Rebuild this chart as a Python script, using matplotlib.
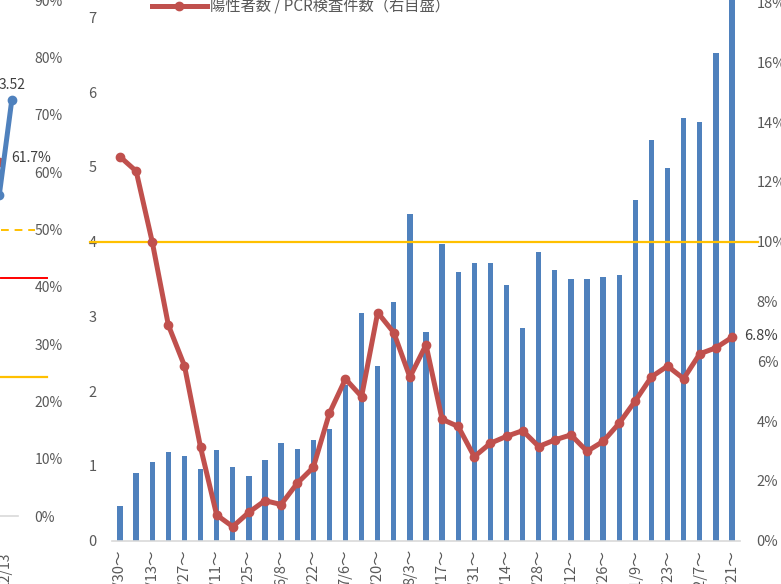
import matplotlib
matplotlib.use("Agg")
import matplotlib.pyplot as plt
from matplotlib.lines import Line2D

plt.rcParams['font.family'] = ['Noto Sans CJK JP', 'DejaVu Sans']

# weekly data, 3/30 ~ 12/21
weeks = ['3/30～', '4/6～', '4/13～', '4/20～', '4/27～', '5/4～', '5/11～', '5/18～', '5/25～',
         '6/1～', '6/8～', '6/15～', '6/22～', '6/29～', '7/6～', '7/13～', '7/20～', '7/27～',
         '8/3～', '8/10～', '8/17～', '8/24～', '8/31～', '9/7～', '9/14～', '9/21～', '9/28～',
         '10/5～', '10/12～', '10/19～', '10/26～', '11/2～', '11/9～', '11/16～', '11/23～',
         '11/30～', '12/7～', '12/14～', '12/21～']
bars = [0.47, 0.90, 1.05, 1.18, 1.13, 0.96, 1.21, 0.98, 0.87, 1.08, 1.31, 1.23, 1.35, 1.49,
        2.08, 3.05, 2.34, 3.19, 4.37, 2.79, 3.97, 3.59, 3.72, 3.72, 3.42, 2.84, 3.86, 3.62,
        3.50, 3.50, 3.53, 3.56, 4.56, 5.36, 4.98, 5.65, 5.60, 6.52, 7.60]
pos_rate = [12.84, 12.36, 9.99, 7.21, 5.85, 3.12, 0.86, 0.47, 0.95, 1.34, 1.21, 1.92, 2.45,
            4.26, 5.41, 4.82, 7.63, 6.96, 5.47, 6.55, 4.06, 3.82, 2.81, 3.26, 3.49, 3.68,
            3.15, 3.37, 3.54, 2.99, 3.32, 3.93, 4.68, 5.48, 5.84, 5.42, 6.25, 6.45, 6.80]
ref_level = 10  # % line on right axis
legend_label = '陽性者数 / PCR検査件数（右目盛）'

# fragment of the neighbouring chart on the left
frag_x = [-1, 0]
frag_blue = [2.72, 3.52]
frag_red_x = [-2, -1]
frag_red = [61.0, 61.7]
frag_hlines = [50, 41.5, 24.3]
frag_ticks = list(range(0, 100, 10))
frag_xlabel = '12/13'

W, H = 781, 584
BLUE = '#4F81BD'
RED = '#C0504D'
ORANGE = '#FFC000'
GRAY = '#595959'


def box(x0, y0, x1, y1):
    # pixel box (top-left origin) -> figure fraction
    return [x0 / W, 1 - y1 / H, (x1 - x0) / W, (y1 - y0) / H]


fig = plt.figure(figsize=(W / 100, H / 100), dpi=100)

# ---- main chart
ax = fig.add_axes(box(112, -57.3, 740, 540.7))
ax.set_facecolor('none')
x = list(range(len(weeks)))
ax.bar(x, bars, width=0.33, color=BLUE, zorder=2)
ax.set_xlim(-0.5, len(weeks) - 0.5)
ax.set_ylim(0, 8)
ax.set_yticks(range(0, 9))
ax.set_xticks(x[::2])
ax.set_xticklabels(weeks[::2], rotation=90)
ax.tick_params(axis='both', length=0, colors=GRAY, labelsize=10.5)
ax.tick_params(axis='y', pad=11)
ax.tick_params(axis='x', pad=6)
for s in ['top', 'left', 'right']:
    ax.spines[s].set_visible(False)
ax.spines['bottom'].set_color('#d9d9d9')
ax.spines['bottom'].set_linewidth(1.2)

ax2 = ax.twinx()
ax2.set_ylim(0, 20)
ax2.set_yticks(range(0, 21, 2))
ax2.set_yticklabels([f'{v}%' for v in range(0, 21, 2)])
ax2.tick_params(axis='y', length=0, colors=GRAY, labelsize=10.5, pad=12)
for s in ax2.spines.values():
    s.set_visible(False)
ax2.axhline(ref_level, xmin=-0.035, xmax=1.029, color=ORANGE, lw=1.6, clip_on=False, zorder=3)
ax2.plot(x, pos_rate, color=RED, lw=3.6, marker='o', ms=6, zorder=4)
ax2.annotate(f'{pos_rate[-1]:.1f}%', (x[-1], pos_rate[-1]), xytext=(9, 1),
             textcoords='offset points', ha='left', va='center', color='#404040', fontsize=10.5)

# legend entry (rest of legend is cropped)
fig.add_artist(Line2D([152 / W, 207 / W], [1 - 6 / H, 1 - 6 / H], color=RED, lw=3.6))
fig.add_artist(Line2D([179 / W], [1 - 6 / H], color=RED, marker='o', ms=6))
fig.text(210 / W, 1 - 6 / H, legend_label, color=GRAY, fontsize=11, va='center', ha='left')

# ---- fragment of the left chart
fa = fig.add_axes(box(-94, -57, 18, 516))
fa.set_facecolor('none')
fb = fa.twinx()
fa.set_xlim(-8.5, 0.5)
fa.set_ylim(0, 100)
fa.yaxis.tick_right()
fa.set_yticks(frag_ticks)
fa.set_yticklabels([f'{v}%' for v in frag_ticks])
fa.tick_params(axis='y', length=0, colors=GRAY, labelsize=10, pad=12)
fa.set_xticks([])
for s in ['top', 'left', 'right']:
    fa.spines[s].set_visible(False)
fa.spines['bottom'].set_color('#d9d9d9')
fa.spines['bottom'].set_linewidth(1.2)
fa.axhline(frag_hlines[0], xmin=0.85, xmax=1.15, color=ORANGE, lw=1.4, ls=(0, (4, 3)), clip_on=False)
fa.axhline(frag_hlines[1], xmin=0.85, xmax=1.26, color='#FF0000', lw=1.4, clip_on=False)
fa.axhline(frag_hlines[2], xmin=0.85, xmax=1.26, color=ORANGE, lw=1.6, clip_on=False)
fa.plot(frag_red_x, frag_red, color=RED, lw=3.6, marker='o', ms=6)
fa.annotate(f'{frag_red[-1]}%', (frag_red_x[-1], frag_red[-1]), xytext=(8.5, 3.5),
            textcoords='offset points', ha='left', va='center', color='#404040', fontsize=10)

fb.set_ylim(0, 4.85)
fb.set_yticks([])
for s in fb.spines.values():
    s.set_visible(False)
fb.plot(frag_x, frag_blue, color=BLUE, lw=3.6, marker='o', ms=6)
fb.annotate(f'{frag_blue[-1]:.2f}', (frag_x[-1], frag_blue[-1]), xytext=(0, 6),
            textcoords='offset points', ha='center', va='bottom', color='#404040', fontsize=10)
fig.text(5 / W, 1 - 552 / H, frag_xlabel, rotation=90, ha='center', va='top', color=GRAY, fontsize=10)

fig.savefig('out.png', dpi=100)
